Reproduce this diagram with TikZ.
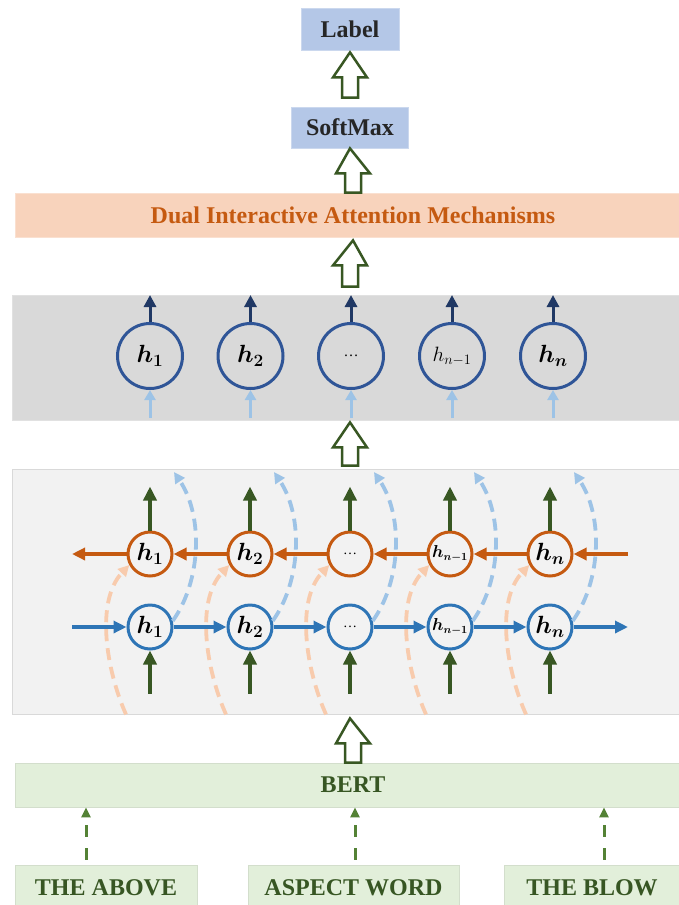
\documentclass[tikz,border=0pt]{standalone}
\usepackage{amsmath,bm}
\usepackage{fontspec}
\setmainfont{Liberation Serif}
\usetikzlibrary{arrows.meta,calc}

\definecolor{boxblue}{HTML}{B4C7E7}
\definecolor{boxpeach}{HTML}{F8D3BC}
\definecolor{peachtxt}{HTML}{C55A11}
\definecolor{panelgray}{HTML}{D9D9D9}
\definecolor{panellight}{HTML}{F2F2F2}
\definecolor{boxgreen}{HTML}{E2EFDA}
\definecolor{greentxt}{HTML}{375623}
\definecolor{darkgreen}{HTML}{385723}
\definecolor{midgreen}{HTML}{548235}
\definecolor{navy}{HTML}{203864}
\definecolor{cellblue}{HTML}{2F5597}
\definecolor{fwdblue}{HTML}{2E75B6}
\definecolor{bwdorange}{HTML}{C55A11}
\definecolor{lightblue}{HTML}{9DC3E6}
\definecolor{lightpeach}{HTML}{F8CBAD}

\newcommand\hollowarrow[2]{%
  \draw[hollow] let \p1=(#1), \p2=(#2) in
    (\x1-8pt,\y1) -- (\x1-8pt,\y2-25pt) -- (\x1-17pt,\y2-25pt) -- (\x2,\y2)
    -- (\x1+17pt,\y2-25pt) -- (\x1+8pt,\y2-25pt) -- (\x1+8pt,\y1) -- cycle;}

\begin{document}
\begin{tikzpicture}[x=1pt,y=-1pt,
  title/.style={font=\fontsize{24}{28}\selectfont\bfseries, inner sep=0pt},
  bluebox/.style={title, fill=boxblue, draw=boxblue!70!white, line width=0.8pt, text=black!85},
  peachbox/.style={title, fill=boxpeach, draw=boxpeach!70!white, line width=0.8pt, text=peachtxt},
  greenbox/.style={title, fill=boxgreen, draw=boxgreen!85!gray, line width=0.8pt, text=greentxt},
  hollow/.style={draw=darkgreen, fill=white, line width=2.5pt, line join=miter},
  topcell/.style={circle, draw=cellblue, line width=3pt, minimum size=65pt, inner sep=0pt, font=\fontsize{24}{28}\selectfont},
  fcell/.style={circle, draw=fwdblue, fill=panellight, line width=3pt, minimum size=44pt, inner sep=0pt, font=\fontsize{23}{26}\selectfont},
  bcell/.style={circle, draw=bwdorange, fill=panellight, line width=3pt, minimum size=44pt, inner sep=0pt, font=\fontsize{23}{26}\selectfont},
  navyarrow/.style={draw=navy, line width=3pt, -{Triangle[width=12pt,length=12pt]}},
  lbarrow/.style={draw=lightblue, line width=3pt, -{Triangle[width=11pt,length=10pt]}},
  grnarrow/.style={draw=darkgreen, line width=3.5pt, -{Triangle[width=13pt,length=14pt]}},
  fwdarrow/.style={draw=fwdblue, line width=3.5pt, -{Triangle[width=12pt,length=13pt]}},
  bwdarrow/.style={draw=bwdorange, line width=3.5pt, -{Triangle[width=12pt,length=13pt]}},
  peachdash/.style={draw=lightpeach, line width=3.8pt, dash pattern=on 12pt off 7pt, -{Triangle[width=11pt,length=11pt]}},
  bluedash/.style={draw=lightblue, line width=3.8pt, dash pattern=on 12pt off 7pt, -{Triangle[width=11pt,length=11pt]}},
  greendash/.style={draw=midgreen, line width=3pt, dash pattern=on 12pt off 11pt, -{Triangle[width=9pt,length=10pt]}}
]
\useasboundingbox (0,0) rectangle (678,905);
\fill[white] (0,0) rectangle (678,905);

% output stack
\node[bluebox, minimum width=98pt, minimum height=42pt] (label) at (350,29) {Label};
\node[bluebox, minimum width=117pt, minimum height=41pt] (softmax) at (350,127.5) {SoftMax};
\node[peachbox, minimum width=676pt, minimum height=44pt] (dual) at (353,215) {Dual Interactive Attention Mechanisms};

% upper panel with the hidden states
\node[fill=panelgray, draw=panelgray!80!white, line width=0.8pt, minimum width=676pt, minimum height=125pt, inner sep=0pt] (upper) at (350,357.5) {};
% lower panel with the BiLSTM
\node[fill=panellight, draw=panelgray, line width=0.8pt, minimum width=676pt, minimum height=245pt, inner sep=0pt] (lower) at (350,591.5) {};

% embedding and inputs
\node[greenbox, minimum width=676pt, minimum height=44pt] (bert) at (353,785) {BERT};
\node[greenbox, minimum width=182pt, minimum height=46pt] (above) at (106,888) {THE ABOVE};
\node[greenbox, minimum width=211pt, minimum height=46pt] (aspect) at (353.5,888) {ASPECT WORD};
\node[greenbox, minimum width=176pt, minimum height=46pt] (blow) at (592,888) {THE BLOW};

% hollow block arrows
\hollowarrow{[yshift=9pt]softmax.north}{[yshift=-2pt]label.south}
\hollowarrow{dual.north}{softmax.south}
\hollowarrow{[yshift=8pt]upper.north}{[yshift=-3pt]dual.south}
\hollowarrow{[yshift=3pt]lower.north}{[yshift=-2pt]upper.south}
\hollowarrow{bert.north}{[yshift=-4pt]lower.south}

% hidden states
\node[topcell] (t1) at (150,356) {$\bm{h_1}$};
\node[topcell] (t2) at (250.5,356) {$\bm{h_2}$};
\node[topcell] (t3) at (351,356) {\fontsize{15}{16}\selectfont\ldots};
\node[topcell] (t4) at (452,356) {\fontsize{22}{24}\selectfont$h_{n-1}$};
\node[topcell] (t5) at (553,356) {$\bm{h_n}$};
\foreach \i in {1,...,5}{
  \draw[navyarrow] (t\i.north) -- ([yshift=27pt]t\i.north);
  \draw[lbarrow] ([yshift=-28pt]t\i.south) -- (t\i.south);
}

% BiLSTM cells
\foreach \i/\x in {1/150,2/250,3/350,4/450,5/550}{
  \coordinate (bc\i) at (\x,554);
  \coordinate (fc\i) at (\x,627);
}
\node[bcell] (b1) at (bc1) {$\bm{h_1}$};
\node[bcell] (b2) at (bc2) {$\bm{h_2}$};
\node[bcell] (b3) at (bc3) {\fontsize{14}{16}\selectfont\ldots};
\node[bcell] (b4) at (bc4) {\fontsize{16}{18}\selectfont$\bm{h_{n-1}}$};
\node[bcell] (b5) at (bc5) {$\bm{h_n}$};
\node[fcell] (f1) at (fc1) {$\bm{h_1}$};
\node[fcell] (f2) at (fc2) {$\bm{h_2}$};
\node[fcell] (f3) at (fc3) {\fontsize{14}{16}\selectfont\ldots};
\node[fcell] (f4) at (fc4) {\fontsize{16}{18}\selectfont$\bm{h_{n-1}}$};
\node[fcell] (f5) at (fc5) {$\bm{h_n}$};

% cross connections between the two directions
\foreach \i in {1,...,5}{
  \coordinate (ps\i) at ($(f\i.center |- lower.south)+(-24,0)$);
  \draw[peachdash] (ps\i) .. controls ($(ps\i)+(-20,-45)$) and ($(b\i.208)+(-34,36)$) .. (b\i.208);
  \coordinate (be\i) at ($(b\i.center)+(24,-82)$);
  \draw[bluedash] (f\i.15) .. controls ($(f\i.15)+(28,-39)$) and ($(be\i)+(30,45)$) .. (be\i);
}

% forward chain
\coordinate (fin) at (72,627);
\coordinate (fout) at (628,627);
\draw[fwdarrow] (fin) -- (f1);
\draw[fwdarrow] (f1) -- (f2);
\draw[fwdarrow] (f2) -- (f3);
\draw[fwdarrow] (f3) -- (f4);
\draw[fwdarrow] (f4) -- (f5);
\draw[fwdarrow] (f5) -- (fout);
% backward chain
\coordinate (bin) at (628,554);
\coordinate (bout) at (72,554);
\draw[bwdarrow] (bin) -- (b5);
\draw[bwdarrow] (b5) -- (b4);
\draw[bwdarrow] (b4) -- (b3);
\draw[bwdarrow] (b3) -- (b2);
\draw[bwdarrow] (b2) -- (b1);
\draw[bwdarrow] (b1) -- (bout);

% token inputs and state outputs
\foreach \i in {1,...,5}{
  \draw[grnarrow] (b\i.north) -- ([yshift=44pt]b\i.north);
  \draw[grnarrow] ([yshift=-43pt]f\i.south) -- (f\i.south);
}

% inputs into BERT
\coordinate (g1) at (86,0);
\coordinate (g2) at (355,0);
\coordinate (g3) at (604,0);
\draw[greendash] ([yshift=5pt]above.north -| g1) -- (bert.south -| g1);
\draw[greendash] ([yshift=5pt]aspect.north -| g2) -- (bert.south -| g2);
\draw[greendash] ([yshift=5pt]blow.north -| g3) -- (bert.south -| g3);
\end{tikzpicture}
\end{document}
